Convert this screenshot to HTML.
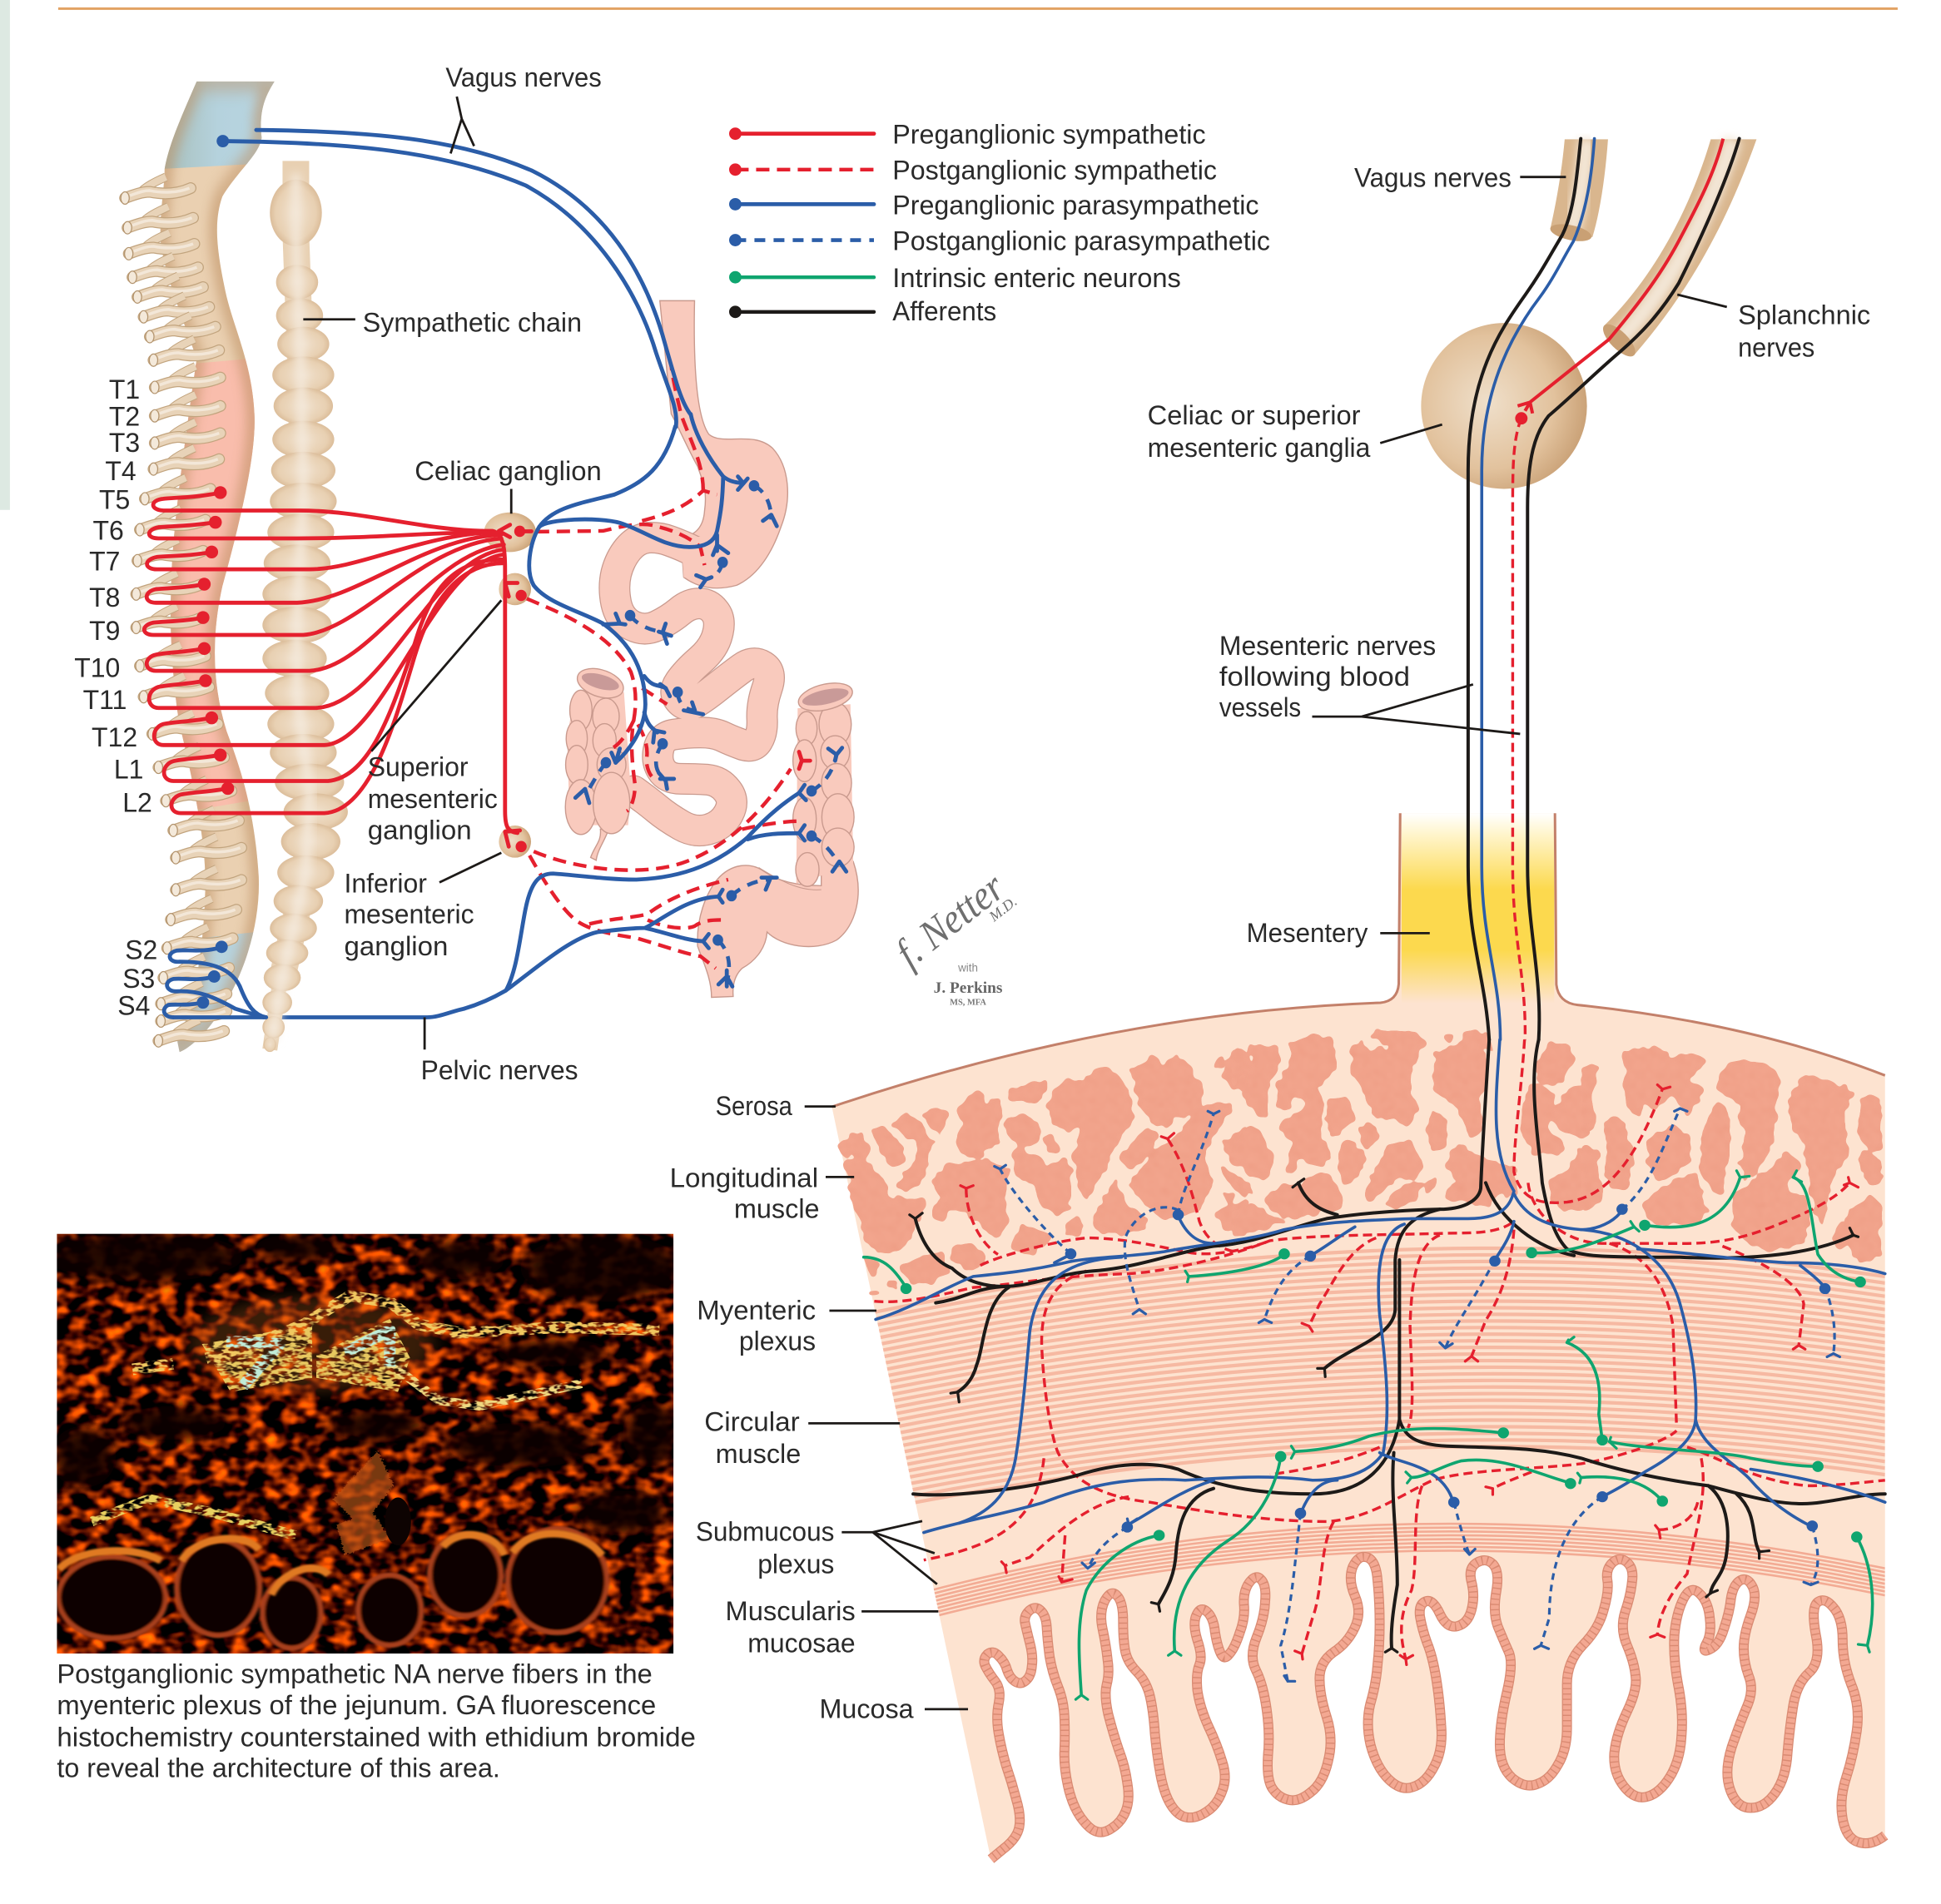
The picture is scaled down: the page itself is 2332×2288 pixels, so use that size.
<!DOCTYPE html>
<html><head><meta charset="utf-8"><style>
html,body{margin:0;padding:0;background:#fff}
svg{display:block}
path,line,ellipse,polyline,polygon,circle,use{vector-effect:non-scaling-stroke}
text{font-family:"Liberation Sans",sans-serif;font-size:21.5px;fill:#2a2a2a}
.k{fill:none;stroke:#1d1a18;stroke-width:4;stroke-linecap:round;stroke-linejoin:round}
.b{fill:none;stroke:#2b5da8;stroke-width:3.6;stroke-linecap:round;stroke-linejoin:round}
.r{fill:none;stroke:#e5202e;stroke-width:3.4;stroke-dasharray:11 6}
.bd{fill:none;stroke:#2b5da8;stroke-width:3.2;stroke-dasharray:8 6}
.g{fill:none;stroke:#0fa56f;stroke-width:3.6;stroke-linecap:round;stroke-linejoin:round}
.ys{fill:none;stroke-width:3.2;stroke-linecap:round}
.B{fill:none;stroke:#2b5da8;stroke-width:4.8;stroke-linecap:round;stroke-linejoin:round}
.BD{fill:none;stroke:#2b5da8;stroke-width:4.6;stroke-dasharray:13 10}
.R{fill:none;stroke:#e5202e;stroke-width:4.8;stroke-linecap:round;stroke-linejoin:round}
.RD{fill:none;stroke:#e5202e;stroke-width:4.4;stroke-dasharray:16 9}
.L{stroke:#1d1a18;stroke-width:2.8;fill:none}
.gut{fill:#f9cabd;stroke:#c99a8e;stroke-width:1.4}
</style></head><body>
<svg xmlns="http://www.w3.org/2000/svg" width="2332" height="2288" viewBox="0 0 1568 1538.4">
<defs>
<linearGradient id="mes" x1="0" y1="0" x2="0" y2="1"><stop offset="0" stop-color="#fff"/><stop offset=".12" stop-color="#fff4c8"/><stop offset=".4" stop-color="#fcd94e"/><stop offset=".72" stop-color="#fcd94e"/><stop offset="1" stop-color="#fde3d0"/></linearGradient>
<linearGradient id="cerv" x1="0" y1="0" x2="1" y2="0"><stop offset="0" stop-color="#a4b9b0"/><stop offset=".5" stop-color="#b5d2dd"/><stop offset="1" stop-color="#b9d6e2"/></linearGradient>
<radialGradient id="gang" cx=".4" cy=".48" r=".62"><stop offset="0" stop-color="#efdfca"/><stop offset=".65" stop-color="#e2c29d"/><stop offset="1" stop-color="#c89f74"/></radialGradient>
<radialGradient id="bead" cx=".5" cy=".5" r=".55"><stop offset="0" stop-color="#f0e0cc"/><stop offset=".7" stop-color="#e8d0b2"/><stop offset="1" stop-color="#d6b590"/></radialGradient>
<pattern id="cob" width="66" height="66" patternUnits="userSpaceOnUse"><rect width="66" height="66" fill="#f2a58d"/><g fill="none" stroke="#ea937a" stroke-width="1.6" style="vector-effect:none"><circle cx="16" cy="16" r="13" style="vector-effect:none"/><circle cx="16" cy="18" r="6" style="vector-effect:none"/><circle cx="48" cy="20" r="15" style="vector-effect:none"/><circle cx="30" cy="48" r="14" style="vector-effect:none"/><circle cx="60" cy="54" r="10" style="vector-effect:none"/></g></pattern>
<path id="sp" d="M460,118 L642,118 C620,140 605,160 612,200 C605,225 560,245 520,285 C500,320 505,360 530,430 C550,480 590,530 595,600 C600,660 560,760 520,850 C495,920 495,990 530,1060 C560,1110 595,1170 605,1270 C610,1340 570,1420 500,1480 C470,1505 440,1520 420,1525 L415,1510 C445,1470 475,1400 480,1290 C482,1240 470,1180 420,1050 C405,1000 395,900 400,860 C400,780 430,650 460,520 C420,450 375,380 375,340 C375,300 385,270 385,245 C395,210 420,175 460,118 Z"/>
<clipPath id="spc"><use href="#sp"/></clipPath>
<clipPath id="tis2"><path d="M0,122 Q400,-50 776,-67 L1055,-63 Q1300,-30 1490,65 L1490,1100 L161,1100 Z"/></clipPath>
<clipPath id="ph"><rect x="46" y="997" width="498" height="339"/></clipPath>
<filter id="lump" x="-3%" y="-3%" width="106%" height="106%" color-interpolation-filters="sRGB"><feTurbulence type="fractalNoise" baseFrequency=".035" numOctaves="3" seed="4"/><feDisplacementMap in="SourceGraphic" scale="40" xChannelSelector="R" yChannelSelector="G"/><feGaussianBlur stdDeviation="7"/><feColorMatrix values="1 0 0 0 0 0 1 0 0 0 0 0 1 0 0 0 0 0 16 -6.5"/></filter>
<filter id="blur6" x="-30%" y="-30%" width="160%" height="160%"><feGaussianBlur stdDeviation="12"/></filter>
<filter id="blur2" x="-10%" y="-10%" width="120%" height="120%"><feGaussianBlur stdDeviation="3"/></filter>
<filter id="blur1" x="-20%" y="-5%" width="140%" height="110%"><feGaussianBlur stdDeviation="3.5"/></filter>
<filter id="blurP" x="-30%" y="-30%" width="160%" height="160%"><feGaussianBlur stdDeviation="22"/></filter>
<filter id="photo" x="0" y="0" width="100%" height="100%" color-interpolation-filters="sRGB"><feTurbulence type="fractalNoise" baseFrequency=".07 .1" numOctaves="2" seed="9"/><feColorMatrix values="3 0 0 0 -1.2  1.25 0 0 0 -.58  0 0 0 0 0  0 0 0 0 1"/></filter>
<filter id="mott" x="-5%" y="-5%" width="110%" height="110%" color-interpolation-filters="sRGB"><feTurbulence type="fractalNoise" baseFrequency=".05 .08" numOctaves="2" seed="5" result="n"/><feColorMatrix in="n" values="0 0 0 0 0 0 0 0 0 0 0 0 0 0 0 6 0 0 0 -2.5" result="a"/><feComposite in="SourceGraphic" in2="a" operator="in"/></filter>
<filter id="rough" x="-5%" y="-5%" width="110%" height="110%"><feTurbulence type="fractalNoise" baseFrequency=".16" numOctaves="2" seed="2"/><feDisplacementMap in="SourceGraphic" scale="14" xChannelSelector="R" yChannelSelector="G"/></filter>
<g id="rt">
<path d="M12,-4 C16,-9 24,-13 33,-17" fill="none" stroke="#c2a47e" stroke-width="10.5"/>
<path d="M12,-4 C16,-9 24,-13 33,-17" fill="none" stroke="#e8d3b8" stroke-width="8.5"/>
<path d="M0,0 C8,-3 14,-5 20,-5 C30,-3 42,-3 53,-8" fill="none" stroke="#c2a47e" stroke-width="14" stroke-linecap="round"/>
<path d="M0,0 C8,-3 14,-5 20,-5 C30,-3 42,-3 53,-8" fill="none" stroke="#e8d3b8" stroke-width="11.5" stroke-linecap="round"/>
<path d="M4,-2 C10,-4 14,-6 20,-6 C30,-4 42,-4 52,-8" fill="none" stroke="#f3e7d8" stroke-width="3.5"/>
<ellipse cx="0" cy="0" rx="3.4" ry="5" fill="#f4e9da" stroke="#b3946e" stroke-width="1.2"/>
</g>
<path id="arc" d="M40,500 Q800,300 1490,430" fill="none" stroke="#f6b9a2" stroke-width="4.2"/>
<path id="arc2" d="M140,1000 Q800,780 1490,960" fill="none" stroke="#f3ab94" stroke-width="2.6"/>
<path id="wave" d="M225,1488 L243,1469 Q262,1450 265,1430 Q268,1410 261,1380 Q255,1350 247,1320 Q240,1290 236,1260 Q232,1230 236,1205 Q240,1180 231,1165 Q222,1150 217,1137 Q213,1125 220,1116 Q228,1108 236,1119 Q245,1130 248,1145 Q252,1160 260,1166 Q268,1172 275,1163 Q282,1155 283,1137 Q285,1120 280,1095 Q275,1070 273,1057 Q272,1045 280,1036 Q288,1028 295,1036 Q303,1045 304,1067 Q305,1090 308,1120 Q312,1150 320,1175 Q328,1200 329,1230 Q330,1260 329,1290 Q328,1320 334,1355 Q340,1390 352,1412 Q365,1435 375,1438 Q385,1442 397,1431 Q410,1420 416,1400 Q422,1380 418,1350 Q415,1320 406,1290 Q398,1260 391,1225 Q385,1190 389,1170 Q393,1150 390,1125 Q388,1100 383,1070 Q378,1040 386,1019 Q395,998 403,1009 Q412,1020 412,1055 Q412,1090 415,1110 Q418,1130 431,1147 Q445,1165 450,1192 Q455,1220 457,1260 Q460,1300 465,1335 Q470,1370 480,1390 Q490,1410 502,1412 Q515,1415 530,1402 Q545,1390 552,1365 Q560,1340 552,1310 Q545,1280 532,1245 Q520,1210 517,1180 Q515,1150 520,1135 Q525,1120 517,1090 Q510,1060 516,1044 Q522,1028 531,1039 Q540,1050 542,1075 Q545,1100 550,1114 Q555,1128 562,1116 Q570,1105 577,1077 Q585,1050 583,1025 Q582,1000 591,985 Q600,970 607,980 Q615,990 613,1020 Q612,1050 601,1085 Q590,1120 600,1145 Q610,1170 615,1215 Q620,1260 617,1300 Q615,1340 622,1357 Q630,1375 645,1380 Q660,1385 677,1367 Q695,1350 702,1310 Q710,1270 700,1230 Q690,1190 690,1160 Q690,1130 710,1112 Q730,1095 740,1067 Q750,1040 740,1010 Q730,980 737,957 Q745,935 757,940 Q770,945 772,982 Q775,1020 775,1060 Q775,1100 772,1135 Q770,1170 762,1205 Q755,1240 762,1280 Q770,1320 787,1342 Q805,1365 822,1357 Q840,1350 852,1320 Q865,1290 862,1245 Q860,1200 855,1160 Q850,1120 842,1095 Q835,1070 832,1047 Q830,1025 840,1020 Q850,1015 860,1042 Q870,1070 885,1065 Q900,1060 905,1035 Q910,1010 905,985 Q900,960 912,950 Q925,940 935,952 Q945,965 940,1002 Q935,1040 942,1065 Q950,1090 957,1110 Q965,1130 955,1185 Q945,1240 945,1280 Q945,1320 962,1340 Q980,1360 997,1352 Q1015,1345 1027,1317 Q1040,1290 1040,1250 Q1040,1210 1040,1170 Q1040,1130 1062,1100 Q1085,1070 1092,1035 Q1100,1000 1097,980 Q1095,960 1105,949 Q1115,938 1125,949 Q1135,960 1132,985 Q1130,1010 1122,1040 Q1115,1070 1125,1100 Q1135,1130 1137,1155 Q1140,1180 1125,1220 Q1110,1260 1107,1295 Q1105,1330 1120,1355 Q1135,1380 1152,1375 Q1170,1370 1185,1340 Q1200,1310 1202,1265 Q1205,1220 1197,1170 Q1190,1120 1192,1080 Q1195,1040 1205,1015 Q1215,990 1227,1005 Q1240,1020 1242,1050 Q1245,1080 1237,1097 Q1230,1115 1242,1107 Q1255,1100 1262,1070 Q1270,1040 1272,1015 Q1275,990 1285,982 Q1295,975 1302,992 Q1310,1010 1300,1045 Q1290,1080 1290,1105 Q1290,1130 1297,1155 Q1305,1180 1295,1210 Q1285,1240 1273,1285 Q1262,1330 1271,1362 Q1280,1395 1300,1395 Q1320,1395 1335,1367 Q1350,1340 1352,1295 Q1355,1250 1360,1210 Q1365,1170 1382,1150 Q1400,1130 1392,1080 Q1385,1030 1395,1021 Q1405,1012 1417,1031 Q1430,1050 1430,1090 Q1430,1130 1442,1170 Q1455,1210 1450,1255 Q1445,1300 1435,1340 Q1425,1380 1430,1415 Q1435,1450 1452,1457 Q1470,1465 1490,1445"/>
<path id="gutc" d="M840,345 L810,335 Q780,325 740,315 Q700,305 660,307 Q620,310 590,335 Q560,360 547,395 Q535,430 547,470 Q560,510 605,525 Q650,540 695,525 Q740,510 775,490 Q810,470 845,470 Q880,470 902,490 Q925,510 912,545 Q900,580 850,610 Q800,640 775,665 Q750,690 775,710 Q800,730 835,715 Q870,700 915,675 Q960,650 1000,630 Q1040,610 1075,625 Q1110,640 1090,680 Q1070,720 1072,755 Q1075,790 1057,810 Q1040,830 1000,820 Q960,810 930,800 Q900,790 850,790 Q800,790 755,795 Q710,800 700,830 Q690,860 710,882 Q730,905 780,905 Q830,905 875,907 Q920,910 947,935 Q975,960 952,990 Q930,1020 880,1030 Q830,1040 780,1020 Q730,1000 695,980 Q660,960 610,935"/>
</defs>

<rect width="1568" height="1538.4" fill="#fff"/>
<rect x="0" y="0" width="8" height="412" fill="#dde9e2"/>
<line x1="47" y1="7" x2="1533" y2="7" stroke="#e2a263" stroke-width="3"/>

<!-- spinal cord -->
<g transform="scale(.3454,.5574)">
<use href="#sp" fill="#ead0b1"/>
<g clip-path="url(#spc)">
<polygon points="340,100 680,100 680,235 340,246" fill="url(#cerv)"/>
<polygon points="400,530 620,518 640,1155 400,1180" fill="#f9bdac"/>
<polygon points="400,1365 640,1348 640,1530 400,1530" fill="#b7d3de"/>
<use href="#sp" fill="none" stroke="#bd8f62" stroke-width="20" opacity=".55" filter="url(#blur6)"/>
</g>
</g>
<use href="#rt" x="101" y="160"/><use href="#rt" x="103" y="184"/><use href="#rt" x="104" y="205"/><use href="#rt" x="107" y="224"/><use href="#rt" x="111" y="240"/><use href="#rt" x="116" y="256"/><use href="#rt" x="121" y="272"/><use href="#rt" x="124" y="291"/><use href="#rt" x="125" y="313"/><use href="#rt" x="125" y="336"/><use href="#rt" x="125" y="358"/><use href="#rt" x="124" y="379"/><use href="#rt" x="117" y="403"/><use href="#rt" x="113" y="428"/><use href="#rt" x="111" y="453"/><use href="#rt" x="110" y="480"/><use href="#rt" x="110" y="507"/><use href="#rt" x="113" y="538"/><use href="#rt" x="116" y="563"/><use href="#rt" x="123" y="593"/><use href="#rt" x="128" y="620"/><use href="#rt" x="134" y="647"/><use href="#rt" x="140" y="671"/><use href="#rt" x="142" y="693"/><use href="#rt" x="142" y="719"/><use href="#rt" x="138" y="743"/><use href="#rt" x="135" y="766"/><use href="#rt" x="132" y="790"/><use href="#rt" x="130" y="811"/><use href="#rt" x="130" y="825"/><use href="#rt" x="128" y="841"/>

<!-- pelvic line, behind chain -->
<path class="B" d="M140,822 L345,822 C355,822 365,817 375,815"/>

<!-- sympathetic chain -->
<path d="M239,130 L239,190 L243,300 L245,400 L240,500 L240,560 L250,640 L247,705 L237,750 L228,790" fill="none" stroke="#e8d0b2" stroke-width="32"/>
<path d="M228,780 L218,848" fill="none" stroke="#e8d0b2" stroke-width="18"/>
<g fill="url(#bead)">
<ellipse cx="239" cy="172" rx="21" ry="27"/>
<ellipse cx="240" cy="228" rx="17" ry="14"/><ellipse cx="242" cy="255" rx="19" ry="14"/><ellipse cx="245" cy="278" rx="21" ry="14"/><ellipse cx="245" cy="303" rx="25" ry="15"/><ellipse cx="245" cy="328" rx="24" ry="15"/><ellipse cx="245" cy="355" rx="25" ry="15"/><ellipse cx="245" cy="380" rx="26" ry="15"/><ellipse cx="245" cy="405" rx="27" ry="15"/><ellipse cx="243" cy="430" rx="27" ry="15"/><ellipse cx="240" cy="455" rx="27" ry="15"/><ellipse cx="240" cy="480" rx="28" ry="15"/><ellipse cx="240" cy="505" rx="28" ry="15"/><ellipse cx="238" cy="532" rx="26" ry="15"/><ellipse cx="240" cy="560" rx="26" ry="15"/><ellipse cx="243" cy="585" rx="27" ry="15"/><ellipse cx="245" cy="608" rx="27" ry="15"/><ellipse cx="250" cy="632" rx="28" ry="15"/><ellipse cx="255" cy="656" rx="26" ry="15"/><ellipse cx="251" cy="680" rx="24" ry="15"/><ellipse cx="247" cy="705" rx="23" ry="14"/><ellipse cx="241" cy="728" rx="20" ry="13"/><ellipse cx="237" cy="750" rx="19" ry="12"/><ellipse cx="232" cy="770" rx="17" ry="11"/><ellipse cx="228" cy="790" rx="15" ry="11"/><ellipse cx="224" cy="810" rx="12" ry="10"/><ellipse cx="221" cy="830" rx="9" ry="9"/><ellipse cx="218" cy="844" rx="5" ry="6"/>
</g>
<path d="M239,140 L239,190 L243,300 L245,400 L240,500 L240,560 L250,640 L247,705 L237,750 L228,790 L220,840" fill="none" stroke="#f4e9db" stroke-width="11" filter="url(#blur1)"/>

<!-- ganglia -->
<ellipse cx="412" cy="430" rx="21" ry="16" fill="url(#gang)"/>
<ellipse cx="416" cy="476" rx="13" ry="13" fill="url(#gang)"/>
<ellipse cx="416" cy="680" rx="13" ry="13" fill="url(#gang)"/>

<!-- red preganglionic -->
<g class="R">
<path d="M178,398 C160,402 140,402 132,403 C121,404 121,412 132,412.5 L240,412.5 C290,412 340,428 390,429"/>
<path d="M174,422 C155,425 140,425 128,426 C118,428 118,435 128,435 L240,435 C300,435 350,430 395,430"/>
<path d="M171,446 C155,449 140,449 127,450 C116,452 116,460 127,460 L250,460 C290,460 340,432 400,430"/>
<path d="M165,472 C150,475 138,475 126,476 C116,478 116,487 126,487 L240,487 C290,485 340,435 405,432"/>
<path d="M164,499 C150,502 135,502 124,503 C114,505 114,513 124,513 L245,513 C290,510 340,440 405,435"/>
<path d="M165,524 C150,527 135,527 126,529 C116,531 116,542 126,542 L250,542 C300,540 345,448 407,440"/>
<path d="M166,550 C150,553 138,553 128,555 C118,558 118,572 128,572 L255,572 C310,570 350,450 407,444"/>
<path d="M171,580 C155,583 142,583 132,585 C122,588 122,602 132,602 L262,602 C310,600 350,455 407,448"/>
<path d="M178,610 C160,613 148,613 140,615 C130,618 130,631 140,631 L265,631 C300,628 318,570 335,520 C350,470 370,452 407,452"/>
<path d="M184,637 C168,640 155,640 146,642 C136,645 136,657 146,657 L262,657 C300,655 320,580 335,530 C350,480 375,455 407,455"/>
<path d="M385,429 L398,429 C407,431 408,445 408,460 L408,655 C408,668 410,672 418,673"/>
<path d="M403,429 L412,424 M403,429 L412,434 M408,471 L418,471 M408,471 L411,482 M408,672 L420,671 M408,672 L411,684"/>
</g>

<!-- gut -->
<g transform="translate(375,334.5) scale(.22447,.32573)">
<path class="gut" d="M704,-281 L829,-281 C825,-150 830,0 880,50 C930,80 1040,40 1110,85 C1170,130 1180,210 1140,280 C1110,340 1060,400 980,425 C900,440 840,430 790,405 L780,310 C820,300 860,290 865,240 C875,190 860,170 840,130 C800,80 770,30 745,0 Z"/>
<use href="#gutc" fill="none" stroke="#c99a8e" stroke-width="38" stroke-linejoin="round" stroke-linecap="round"/>
<use href="#gutc" fill="none" stroke="#f9cabd" stroke-width="35.5" stroke-linejoin="round" stroke-linecap="round"/>
<path d="M790,405 L780,310 L900,300 L950,420 Z" fill="#f9cabd"/>
<!-- ascending colon -->
<path d="M400,690 L575,690 L600,940 L590,1020 L380,1020 L370,800 Z" fill="#f9cabd"/>
<g class="gut">
<path d="M490,1030 C495,1060 470,1070 455,1100 L475,1107 C480,1080 505,1060 520,1030 Z"/>
<ellipse cx="420" cy="735" rx="40" ry="50"/><ellipse cx="405" cy="805" rx="38" ry="45"/><ellipse cx="405" cy="870" rx="40" ry="48"/><ellipse cx="420" cy="975" rx="56" ry="68"/>
<ellipse cx="510" cy="750" rx="48" ry="45"/><ellipse cx="505" cy="810" rx="42" ry="42"/><ellipse cx="530" cy="870" rx="52" ry="42"/><ellipse cx="530" cy="965" rx="66" ry="76"/>
<ellipse cx="490" cy="668" rx="84" ry="34" transform="rotate(10 490 668)"/></g>
<ellipse cx="490" cy="664" rx="68" ry="18" transform="rotate(10 490 664)" fill="#c99a98"/>
<!-- descending colon & sigmoid -->
<path class="gut" d="M910,1155 C960,1115 1030,1110 1080,1135 C1130,1160 1200,1170 1285,1170 L1285,1130 L1400,1110 C1440,1190 1410,1270 1340,1305 C1260,1335 1140,1320 1090,1285 C1085,1330 1040,1360 1000,1375 C970,1395 965,1420 968,1445 L890,1447 C890,1400 860,1360 840,1320 C835,1250 870,1190 910,1155 Z"/>
<path d="M1200,730 L1390,720 L1400,1120 L1195,1165 Z" fill="#f9cabd"/>
<g class="gut">
<ellipse cx="1232" cy="780" rx="38" ry="42"/><ellipse cx="1225" cy="860" rx="42" ry="52"/><ellipse cx="1225" cy="1005" rx="42" ry="54"/><ellipse cx="1235" cy="1130" rx="42" ry="42"/>
<ellipse cx="1335" cy="770" rx="58" ry="55"/><ellipse cx="1335" cy="840" rx="52" ry="42"/><ellipse cx="1340" cy="915" rx="54" ry="48"/><ellipse cx="1345" cy="1000" rx="58" ry="58"/><ellipse cx="1345" cy="1075" rx="58" ry="48"/>
<ellipse cx="1300" cy="702" rx="98" ry="32" transform="rotate(-8 1300 702)"/></g>
<ellipse cx="1300" cy="702" rx="84" ry="18" transform="rotate(-8 1300 702)" fill="#c99a98"/>
<path d="M1060,1125 C1120,1150 1200,1185 1285,1180" fill="none" stroke="#c99a8e"/>

<!-- nerves z2 -->
<g class="RD">
<path d="M258,292 L500,290 C560,280 640,265 700,280 C760,290 820,310 850,330 L865,375"/>
<path d="M640,265 C720,250 790,235 860,190 L910,200"/>
<path d="M860,190 C860,120 810,60 780,0 C760,-60 750,-90 745,-120"/>
<path d="M225,458 L300,480 C400,510 540,560 600,640 C620,680 620,720 610,760 C600,800 600,850 615,920 C615,950 600,980 585,985"/>
<path d="M610,760 C590,790 560,820 530,830"/>
<path d="M640,680 L730,720"/>
<path d="M625,770 C650,800 665,830 655,860 C660,890 680,910 690,900"/>
<path d="M250,1085 C400,1130 650,1150 800,1110 C950,1070 1070,990 1175,880"/>
<path d="M1000,1030 C1060,1020 1150,1010 1210,1010"/>
<path d="M235,1095 C280,1150 340,1220 400,1255 C450,1280 520,1290 620,1300 C720,1320 800,1340 850,1345 L905,1375"/>
<path d="M450,1265 C540,1250 610,1250 660,1240 C720,1210 800,1180 950,1155"/>
<path d="M660,1255 C720,1275 800,1280 830,1270 C860,1255 900,1255 930,1255"/>
</g>
<path class="R" d="M1215,860 L1245,860 M1205,838 L1215,860 L1205,880"/>
<path class="R" d="M200,291 L242,291"/>
<path class="B" d="M760,30 C720,130 650,170 540,200 C430,220 320,230 270,280 C235,320 220,390 250,425 C300,470 420,490 500,520 C580,560 650,620 652,720 C650,780 600,830 545,865"/>
<path class="B" d="M270,280 C300,260 480,255 560,270 C650,290 720,330 810,330 C860,330 900,320 910,290 C925,240 930,210 932,155 C880,110 830,50 815,0"/>
<path class="B" d="M932,155 C960,170 985,170 1005,172 M910,300 L910,340 M500,522 L560,520 M648,650 C680,680 700,670 725,680 M648,740 C660,775 680,780 695,790"/>
<path class="B" d="M0,1475 C50,1465 100,1450 150,1430 C190,1380 200,1300 220,1230 C240,1160 270,1140 320,1140 C420,1145 520,1155 620,1155 C800,1150 920,1110 1020,1050 C1100,990 1160,960 1205,940"/>
<path class="B" d="M1020,1055 C1080,1040 1140,1040 1205,1040"/>
<path class="B" d="M150,1430 C250,1380 380,1300 480,1285 C540,1280 600,1275 650,1275 C700,1260 800,1200 915,1197"/>
<path class="B" d="M650,1275 C720,1285 790,1305 860,1308"/>
<path class="B" d="M985,155 L1005,172 L985,188 M1020,160 L1005,172 M895,350 L910,325 L950,345 M545,495 L560,520 L580,522 M705,670 L725,680 L740,700 M680,815 L685,785 L720,790 M560,830 L545,865 L530,840 M1225,920 L1205,940 L1230,958 M1225,1020 L1205,1040 L1225,1058 M930,1180 L915,1197 L930,1212 M880,1290 L860,1308 L880,1325"/>
<g class="BD">
<path d="M1043,178 C1080,190 1105,220 1105,262"/>
<path d="M930,368 C920,395 900,405 870,410"/>
<path d="M597,500 C625,525 680,540 720,540"/>
<path d="M768,690 C770,720 800,735 830,735"/>
<path d="M714,818 C680,850 680,890 730,910"/>
<path d="M510,865 C480,890 460,920 435,945"/>
<path d="M1250,935 C1290,920 1330,890 1340,840"/>
<path d="M1250,1047 C1290,1060 1330,1090 1350,1120"/>
<path d="M962,1195 C1000,1170 1060,1155 1100,1155"/>
<path d="M913,1305 C945,1325 965,1360 945,1410"/>
</g>
<path class="B" d="M1070,1150 L1125,1150 M1085,1180 L1100,1155 M1075,265 L1105,250 L1125,278 M835,400 L870,410 L890,405 M870,410 L850,430 M700,540 L745,550 M725,520 L715,540 L730,570 M790,735 L860,745 M820,715 L830,735 M705,905 L755,905 M700,890 L725,910 L730,930 M400,952 L435,930 L450,965 M1310,830 L1340,845 L1360,828 M1340,845 L1335,860 M1325,1135 L1350,1110 L1375,1135 M915,1415 L945,1395 L965,1420 M945,1380 L945,1420"/>
<g fill="#2b5da8">
<ellipse cx="1043" cy="178" rx="19" ry="14"/><ellipse cx="930" cy="368" rx="19" ry="14"/><ellipse cx="597" cy="500" rx="19" ry="14"/><ellipse cx="768" cy="690" rx="19" ry="14"/><ellipse cx="714" cy="818" rx="19" ry="14"/><ellipse cx="510" cy="865" rx="19" ry="14"/><ellipse cx="1250" cy="935" rx="19" ry="14"/><ellipse cx="1250" cy="1047" rx="19" ry="14"/><ellipse cx="962" cy="1195" rx="19" ry="14"/><ellipse cx="913" cy="1305" rx="19" ry="14"/>
</g>
<g fill="#e5202e"><ellipse cx="200" cy="291" rx="20" ry="14"/><ellipse cx="205" cy="450" rx="20" ry="14"/><ellipse cx="205" cy="1073" rx="20" ry="14"/></g>
</g>

<!-- vagus -->
<path class="B" d="M207,105 C300,106 370,112 430,138 C490,168 520,220 535,270 C545,305 550,325 558,335"/>
<path class="B" d="M181,114 C280,115 360,122 425,150 C480,180 515,235 530,285 C540,315 548,330 546,345"/>
<!-- sacral -->
<path class="B" d="M180,765 C165,770 150,767 143,768 C134,770 136,778 145,777 C165,777 188,780 195,800 C200,812 205,820 215,822"/>
<path class="B" d="M173,789 C160,793 148,790 140,791 C132,793 134,801 142,801 C160,800 172,805 190,815 L213,822"/>
<path class="B" d="M164,810 C150,813 142,811 136,812 C130,815 132,822 140,822"/>
<g fill="#2b5da8"><circle cx="180" cy="114" r="5"/><circle cx="179" cy="765" r="5"/><circle cx="173" cy="789" r="5"/><circle cx="164" cy="810" r="5"/></g>
<g fill="#e5202e"><circle cx="178" cy="398" r="5.2"/><circle cx="174" cy="422" r="5.2"/><circle cx="171" cy="446" r="5.2"/><circle cx="165" cy="472" r="5.2"/><circle cx="164" cy="499" r="5.2"/><circle cx="165" cy="524" r="5.2"/><circle cx="166" cy="550" r="5.2"/><circle cx="171" cy="580" r="5.2"/><circle cx="178" cy="610" r="5.2"/><circle cx="184" cy="637" r="5.2"/></g>

<!-- legend -->
<g>
<path class="R" d="M594,108 L706,108"/><circle cx="594" cy="108" r="5" fill="#e5202e"/>
<path class="RD" d="M594,137 L706,137"/><circle cx="594" cy="137" r="5" fill="#e5202e"/>
<path class="B" d="M594,165 L706,165" /><circle cx="594" cy="165" r="5" fill="#2b5da8"/>
<path class="BD" d="M594,194 L706,194"/><circle cx="594" cy="194" r="5" fill="#2b5da8"/>
<path class="g" style="stroke-width:4.4" d="M594,224 L706,224"/><circle cx="594" cy="224" r="5" fill="#0fa56f"/>
<path class="k" style="stroke-width:4.4" d="M594,252 L706,252"/><circle cx="594" cy="252" r="5" fill="#1d1a18"/>
<text x="721" y="116" textLength="253" lengthAdjust="spacingAndGlyphs">Preganglionic sympathetic</text>
<text x="721" y="145" textLength="262" lengthAdjust="spacingAndGlyphs">Postganglionic sympathetic</text>
<text x="721" y="173" textLength="296" lengthAdjust="spacingAndGlyphs">Preganglionic parasympathetic</text>
<text x="721" y="202" textLength="305" lengthAdjust="spacingAndGlyphs">Postganglionic parasympathetic</text>
<text x="721" y="232" textLength="233" lengthAdjust="spacingAndGlyphs">Intrinsic enteric neurons</text>
<text x="721" y="259" textLength="84" lengthAdjust="spacingAndGlyphs">Afferents</text>
</g>

<!-- left labels -->
<g>
<text x="360" y="70" textLength="126" lengthAdjust="spacingAndGlyphs">Vagus nerves</text>
<text x="293" y="268" textLength="177" lengthAdjust="spacingAndGlyphs">Sympathetic chain</text>
<text x="335" y="388" textLength="151" lengthAdjust="spacingAndGlyphs">Celiac ganglion</text>
<text x="88" y="322">T1</text><text x="88" y="344">T2</text><text x="88" y="365">T3</text><text x="85" y="388">T4</text><text x="80" y="411">T5</text><text x="75" y="436">T6</text><text x="72" y="461">T7</text><text x="72" y="490">T8</text><text x="72" y="517">T9</text><text x="60" y="547">T10</text><text x="67" y="573">T11</text><text x="74" y="603">T12</text><text x="92" y="629">L1</text><text x="99" y="656">L2</text><text x="101" y="775">S2</text><text x="99" y="798">S3</text><text x="95" y="820">S4</text>
<text x="297" y="627">Superior</text><text x="297" y="653" textLength="105" lengthAdjust="spacingAndGlyphs">mesenteric</text><text x="297" y="678" textLength="84" lengthAdjust="spacingAndGlyphs">ganglion</text>
<text x="278" y="721">Inferior</text><text x="278" y="746" textLength="105" lengthAdjust="spacingAndGlyphs">mesenteric</text><text x="278" y="772" textLength="84" lengthAdjust="spacingAndGlyphs">ganglion</text>
<text x="340" y="872" textLength="127" lengthAdjust="spacingAndGlyphs">Pelvic nerves</text>
</g>
<path class="L" d="M369,78 L373,96 L364,124 M373,96 L383,118 M245,258 L287,258 M413,395 L413,415 M300,607 L405,485 M355,713 L405,689 M343,822 L343,848"/>

<!-- tissue -->
<g transform="translate(672,840) scale(.571,.445)">
<path fill="#fde3d0" d="M225,1488 L243,1469 Q262,1450 265,1430 Q268,1410 261,1380 Q255,1350 247,1320 Q240,1290 236,1260 Q232,1230 236,1205 Q240,1180 231,1165 Q222,1150 217,1137 Q213,1125 220,1116 Q228,1108 236,1119 Q245,1130 248,1145 Q252,1160 260,1166 Q268,1172 275,1163 Q282,1155 283,1137 Q285,1120 280,1095 Q275,1070 273,1057 Q272,1045 280,1036 Q288,1028 295,1036 Q303,1045 304,1067 Q305,1090 308,1120 Q312,1150 320,1175 Q328,1200 329,1230 Q330,1260 329,1290 Q328,1320 334,1355 Q340,1390 352,1412 Q365,1435 375,1438 Q385,1442 397,1431 Q410,1420 416,1400 Q422,1380 418,1350 Q415,1320 406,1290 Q398,1260 391,1225 Q385,1190 389,1170 Q393,1150 390,1125 Q388,1100 383,1070 Q378,1040 386,1019 Q395,998 403,1009 Q412,1020 412,1055 Q412,1090 415,1110 Q418,1130 431,1147 Q445,1165 450,1192 Q455,1220 457,1260 Q460,1300 465,1335 Q470,1370 480,1390 Q490,1410 502,1412 Q515,1415 530,1402 Q545,1390 552,1365 Q560,1340 552,1310 Q545,1280 532,1245 Q520,1210 517,1180 Q515,1150 520,1135 Q525,1120 517,1090 Q510,1060 516,1044 Q522,1028 531,1039 Q540,1050 542,1075 Q545,1100 550,1114 Q555,1128 562,1116 Q570,1105 577,1077 Q585,1050 583,1025 Q582,1000 591,985 Q600,970 607,980 Q615,990 613,1020 Q612,1050 601,1085 Q590,1120 600,1145 Q610,1170 615,1215 Q620,1260 617,1300 Q615,1340 622,1357 Q630,1375 645,1380 Q660,1385 677,1367 Q695,1350 702,1310 Q710,1270 700,1230 Q690,1190 690,1160 Q690,1130 710,1112 Q730,1095 740,1067 Q750,1040 740,1010 Q730,980 737,957 Q745,935 757,940 Q770,945 772,982 Q775,1020 775,1060 Q775,1100 772,1135 Q770,1170 762,1205 Q755,1240 762,1280 Q770,1320 787,1342 Q805,1365 822,1357 Q840,1350 852,1320 Q865,1290 862,1245 Q860,1200 855,1160 Q850,1120 842,1095 Q835,1070 832,1047 Q830,1025 840,1020 Q850,1015 860,1042 Q870,1070 885,1065 Q900,1060 905,1035 Q910,1010 905,985 Q900,960 912,950 Q925,940 935,952 Q945,965 940,1002 Q935,1040 942,1065 Q950,1090 957,1110 Q965,1130 955,1185 Q945,1240 945,1280 Q945,1320 962,1340 Q980,1360 997,1352 Q1015,1345 1027,1317 Q1040,1290 1040,1250 Q1040,1210 1040,1170 Q1040,1130 1062,1100 Q1085,1070 1092,1035 Q1100,1000 1097,980 Q1095,960 1105,949 Q1115,938 1125,949 Q1135,960 1132,985 Q1130,1010 1122,1040 Q1115,1070 1125,1100 Q1135,1130 1137,1155 Q1140,1180 1125,1220 Q1110,1260 1107,1295 Q1105,1330 1120,1355 Q1135,1380 1152,1375 Q1170,1370 1185,1340 Q1200,1310 1202,1265 Q1205,1220 1197,1170 Q1190,1120 1192,1080 Q1195,1040 1205,1015 Q1215,990 1227,1005 Q1240,1020 1242,1050 Q1245,1080 1237,1097 Q1230,1115 1242,1107 Q1255,1100 1262,1070 Q1270,1040 1272,1015 Q1275,990 1285,982 Q1295,975 1302,992 Q1310,1010 1300,1045 Q1290,1080 1290,1105 Q1290,1130 1297,1155 Q1305,1180 1295,1210 Q1285,1240 1273,1285 Q1262,1330 1271,1362 Q1280,1395 1300,1395 Q1320,1395 1335,1367 Q1350,1340 1352,1295 Q1355,1250 1360,1210 Q1365,1170 1382,1150 Q1400,1130 1392,1080 Q1385,1030 1395,1021 Q1405,1012 1417,1031 Q1430,1050 1430,1090 Q1430,1130 1442,1170 Q1455,1210 1450,1255 Q1445,1300 1435,1340 Q1425,1380 1430,1415 Q1435,1450 1452,1457 Q1470,1465 1490,1445 L1490,65 Q1300,-30 1055,-63 Q1028,-67 1025,-100 L1023,-411 L804,-411 L802,-101 Q800,-70 776,-67 Q400,-50 0,122 Z"/>
<rect x="806" y="-411" width="216" height="345" fill="url(#mes)"/>
<path fill="none" stroke="#c3806a" stroke-width="3" d="M0,122 Q400,-50 776,-67 Q800,-70 802,-101 L804,-411 M1023,-411 L1025,-100 Q1028,-67 1055,-63 Q1300,-30 1490,65"/>

<!-- muscle -->
<g clip-path="url(#tis2)">
<use href="#arc"/><use href="#arc" y="12"/><use href="#arc" y="24"/><use href="#arc" y="36"/><use href="#arc" y="48"/><use href="#arc" y="60"/><use href="#arc" y="72"/><use href="#arc" y="84"/><use href="#arc" y="96"/><use href="#arc" y="108"/><use href="#arc" y="120"/><use href="#arc" y="132"/><use href="#arc" y="144"/><use href="#arc" y="156"/><use href="#arc" y="168"/><use href="#arc" y="180"/><use href="#arc" y="192"/><use href="#arc" y="204"/><use href="#arc" y="216"/><use href="#arc" y="228"/><use href="#arc" y="240"/><use href="#arc" y="252"/><use href="#arc" y="264"/><use href="#arc" y="276"/><use href="#arc" y="288"/><use href="#arc" y="300"/><use href="#arc" y="312"/><use href="#arc" y="324"/><use href="#arc" y="336"/><use href="#arc" y="348"/><use href="#arc" y="360"/>
<use href="#arc2"/><use href="#arc2" y="7"/><use href="#arc2" y="14"/><use href="#arc2" y="21"/><use href="#arc2" y="28"/><use href="#arc2" y="35"/><use href="#arc2" y="42"/><use href="#arc2" y="49"/>
</g>
</g>

<!-- longitudinal muscle blobs -->
<g transform="scale(.6724) translate(1000,1250) scale(.33333)">
<g fill="url(#cob)" filter="url(#lump)">
<polygon points="40,440 110,420 140,450 190,510 200,570 340,570 330,620 320,660 290,650 300,700 240,760 160,770 110,720 100,640 65,580 60,500"/>
<polygon points="140,320 180,310 240,370 270,440 210,460 170,400"/>
<polygon points="215,300 265,260 330,310 345,360 380,350 345,420 330,510 260,545 230,510 300,440 300,370 230,320"/>
<polygon points="325,270 370,240 410,250 410,310 390,350 345,300"/>
<polygon points="445,260 500,190 550,190 555,230 600,200 620,260 590,320 610,370 530,400 560,420 480,420 440,370 475,300"/>
<polygon points="630,180 700,165 780,140 770,190 740,230 690,220 640,210"/>
<polygon points="770,220 850,130 900,150 940,110 1010,100 1070,190 1085,290 1040,350 990,450 950,510 920,590 890,530 870,420 900,300 860,330 790,300"/>
<polygon points="615,290 680,260 750,300 750,360 700,390 640,350"/>
<polygon points="760,350 790,340 820,400 780,410"/>
<polygon points="650,400 680,380 700,410 760,420 770,470 830,420 860,460 860,600 810,630 760,610 720,520 660,490"/>
<polygon points="355,510 420,440 500,440 570,430 640,470 620,560 635,660 590,720 520,650 480,620 420,610 400,660 360,640 360,600 400,570"/>
<polygon points="1060,90 1100,100 1150,50 1200,90 1240,50 1300,110 1340,190 1310,270 1230,280 1200,320 1150,290 1100,210 1090,150"/>
<polygon points="1030,430 1130,305 1180,340 1150,400 1080,470"/>
<polygon points="1070,520 1160,400 1230,360 1330,240 1430,220 1440,250 1380,330 1340,420 1370,520 1310,620 1230,640 1180,640 1100,560"/>
<polygon points="935,640 1020,500 1060,600 1130,640 1130,680 1010,700 950,690"/>
<polygon points="1380,70 1420,50 1410,100 1385,105"/>
<polygon points="1410,130 1440,30 1500,40 1500,180 1450,180"/>
<polygon points="1410,370 1500,300 1500,460 1440,450"/>
<polygon points="1380,440 1420,460 1490,520 1500,570 1440,530"/>
<polygon points="1375,620 1420,600 1500,580 1500,700 1440,700"/>
<polygon points="240,820 300,790 400,760 420,830 360,870 290,880"/>
<polygon points="430,750 480,730 550,760 550,810 490,830 430,790"/>
<polygon points="640,750 680,660 730,680 800,710 720,770 660,770"/>
<polygon points="835,670 880,630 910,670 880,710 840,700"/>
<polygon points="120,770 165,790 165,860 130,850"/>
<polygon points="190,860 240,870 220,895 195,890"/>
<polygon points="135,900 185,905 160,925 140,925"/>
<polygon points="25,370 65,360 60,420 30,410"/>
<polygon points="60,340 100,330 135,390 120,430 70,420"/>
<polygon points="1400,540 1450,560 1440,590 1410,570"/>
</g>
</g>
<g transform="scale(.6724) translate(1480,1220) scale(.33333)">
<g fill="url(#cob)" filter="url(#lump)">
<polygon points="60,110 170,110 170,180 130,260 130,360 100,365 50,310 40,240 80,170"/>
<polygon points="205,100 290,70 360,80 380,190 330,240 310,260 330,320 320,420 360,500 320,550 250,510 220,570 190,570 220,460 170,420 180,380 250,350 270,310 230,280 210,340 160,330 160,260 210,170"/>
<polygon points="430,110 470,90 490,130 540,110 560,140 570,110 490,70 520,55 680,60 690,110 660,160 640,250 670,340 630,410 590,380 510,360 490,320 470,250 430,210"/>
<polygon points="345,300 420,285 440,370 380,440 350,420 340,370"/>
<polygon points="455,400 500,385 535,430 490,490 460,450"/>
<polygon points="390,460 430,450 490,520 440,600 400,610 385,540"/>
<polygon points="475,640 520,560 560,470 640,450 690,540 650,590 590,590 560,620 490,680"/>
<polygon points="540,680 620,610 690,600 660,670 600,695"/>
<polygon points="695,600 740,575 730,620 705,650"/>
<polygon points="700,420 720,330 775,380 775,480 720,490"/>
<polygon points="730,140 790,110 900,60 920,180 900,300 900,430 850,430 820,340 730,270"/>
<polygon points="820,60 920,55 940,130 860,100"/>
<polygon points="760,75 800,70 780,110"/>
<polygon points="765,540 810,460 860,490 900,510 1020,550 1030,650 960,650 910,690 760,660 810,600"/>
<polygon points="0,490 50,400 100,420 160,520 120,600 60,580"/>
<polygon points="0,560 60,610 85,660 40,640"/>
<polygon points="120,650 190,610 240,620 300,570 350,570 395,650 395,700 300,715 220,740 140,700"/>
<polygon points="0,700 80,680 140,720 200,740 100,780 0,780"/>
<polygon points="0,130 50,130 70,170 0,260"/>
<polygon points="1090,190 1150,90 1220,110 1235,170 1170,260 1110,230"/>
<polygon points="1050,320 1080,240 1170,280 1160,350 1130,400 1200,470 1190,510 1090,500 1040,420"/>
<polygon points="1150,380 1210,260 1290,250 1290,440 1220,430"/>
<polygon points="1140,590 1210,560 1250,480 1290,480 1290,700 1200,710 1150,660"/>
</g>
</g>
<g transform="scale(.6724) translate(1900,1220) scale(.33333)">
<g fill="url(#cob)" filter="url(#lump)">
<polygon points="140,130 260,110 330,150 410,135 450,175 390,230 440,260 430,310 380,360 330,290 260,340 220,320 210,370 180,340 145,290 165,200"/>
<polygon points="0,190 60,180 40,300 50,400 0,440"/>
<polygon points="80,390 125,355 165,420 185,500 170,620 120,630 80,580 95,500"/>
<polygon points="0,480 60,480 60,590 80,620 60,680 0,700"/>
<polygon points="240,450 330,390 385,440 395,520 320,590 270,600 240,530"/>
<polygon points="210,680 300,610 410,570 460,710 420,750 260,750"/>
<polygon points="435,410 490,310 535,350 530,490 510,640 470,630 425,550"/>
<polygon points="490,220 550,160 660,175 715,210 700,340 690,460 640,560 590,600 570,530 590,440 565,370 580,330 490,270"/>
<polygon points="550,645 680,550 740,490 790,540 730,620 810,650 820,760 800,820 680,850 600,820 545,760"/>
<polygon points="745,310 800,210 960,260 980,290 950,340 960,500 910,580 880,690 880,780 840,700 810,530 800,460 755,390"/>
<polygon points="1010,300 1080,290 1080,500 1040,480 995,430"/>
<polygon points="995,520 1030,485 1080,520 1080,610 1040,610"/>
<polygon points="960,700 1040,650 1080,680 1080,870 1000,890 950,800"/>
<polygon points="900,800 940,735 960,790 935,860"/>
</g>
</g>

<g transform="translate(672,840) scale(.571,.445)">
<!-- mucosa bead line -->
<use href="#wave" fill="none" stroke="#d98a72" stroke-width="12" stroke-linejoin="round"/>
<use href="#wave" fill="none" stroke="#f3a892" stroke-width="9.5" stroke-dasharray="5 1.4" stroke-linejoin="round"/>
</g>

<!-- right column upper -->
<path d="M1264,112.5 L1299,112.5 C1297,140 1293,170 1286.4,191.6 L1252.5,184.2 C1258,160 1262,135 1264,112.5 Z" fill="#d9b68e"/>
<path d="M1282,112 C1280,140 1276,165 1269,188" fill="none" stroke="#f3e6d6" stroke-width="20" filter="url(#blur1)"/>
<ellipse cx="1269" cy="188" rx="17" ry="6" transform="rotate(12 1269 188)" fill="#c9a074"/>
<path d="M1382,112.5 L1419,112.5 C1395,180 1365,235 1320,287 L1296,263 C1335,225 1365,170 1382,112.5 Z" fill="#d9b68e"/>
<path d="M1400,112 C1378,180 1348,232 1308,275" fill="none" stroke="#f3e6d6" stroke-width="22" filter="url(#blur1)"/>
<ellipse cx="1308" cy="275" rx="17" ry="7" transform="rotate(45 1308 275)" fill="#c9a074"/>
<circle cx="1215" cy="328" r="67" fill="url(#gang)"/>
<path class="k" d="M1277,112 C1274,140 1272,170 1262,190 C1250,210 1245,220 1233,237 C1215,263 1186,300 1186,380 L1186,700 C1186,760 1200,790 1203,840"/>
<path class="b" d="M1288,112 C1286,140 1282,170 1271,195 C1262,210 1255,225 1244,240 C1225,265 1197,310 1197,380 L1197,700 C1197,760 1212,790 1212,840"/>
<path fill="none" stroke="#e5202e" stroke-width="4" d="M1392,112 C1385,140 1372,165 1356,195 C1340,225 1320,250 1300,274 L1236,325 L1232,332 M1236,325 L1226,328 M1236,325 L1238,334"/>
<path class="r" d="M1229,338 C1222,355 1222,380 1222,410 L1222,700 C1222,760 1233,790 1232,840"/>
<path class="k" d="M1405,112 C1397,140 1378,185 1356,229 C1340,255 1325,270 1309,284 C1290,300 1270,320 1251,336 C1240,350 1234,370 1234,410 L1234,700 C1234,750 1246,790 1243,840"/>
<circle cx="1229" cy="338" r="5" fill="#e5202e"/>

<!-- tissue nerves -->
<g transform="translate(672,840) scale(.571,.445)">
<g class="r">
<path d="M980,0 C975,100 965,180 965,240 C975,290 1000,300 1040,295 C1100,285 1140,210 1175,90"/>
<path d="M60,475 C100,480 150,465 200,450 C260,445 300,430 420,425 C480,420 560,395 620,365 C680,355 760,355 860,352 C900,350 940,355 965,330"/>
<path d="M210,410 C240,390 320,365 360,360 C410,360 460,375 500,385 C530,395 580,385 620,365"/>
<path d="M985,260 C990,320 1040,370 1090,370 L1160,370 C1220,370 1260,375 1330,340 C1380,315 1420,290 1440,260"/>
<path d="M1100,370 C1150,390 1180,440 1190,520 L1195,700"/>
<path d="M1260,375 C1310,400 1370,440 1375,480 L1368,555"/>
<path d="M860,355 C830,370 820,430 818,520 C820,600 825,680 815,705"/>
<path d="M770,360 C730,380 710,440 690,480 L675,520"/>
<path d="M965,345 C960,430 940,480 925,510 L905,575"/>
<path d="M190,270 C190,320 210,370 235,390"/>
<path d="M475,180 C500,230 510,280 520,330 C530,365 550,380 570,385"/>
<path d="M360,420 C310,440 295,490 297,560 C300,640 310,720 320,750 C340,800 380,830 450,840 C540,860 620,875 700,875 C760,870 800,830 850,800 C900,780 1000,780 1060,770 C1110,760 1180,730 1195,710"/>
<path d="M300,760 C290,880 230,920 130,945"/>
<path d="M1210,740 C1260,760 1300,800 1380,810 C1420,810 1450,805 1490,800"/>
<path d="M1230,760 C1240,830 1220,900 1210,970 C1190,1000 1170,1040 1168,1080"/>
<path d="M1170,890 C1195,890 1220,870 1225,840"/>
<path d="M775,740 C720,770 670,780 620,790"/>
<path d="M420,830 C370,840 330,880 280,940 L245,955"/>
<path d="M330,900 L325,985"/>
<path d="M710,875 C690,920 695,1000 680,1050 L665,1115"/>
<path d="M835,810 C820,860 830,950 820,1000 C800,1050 805,1090 812,1125"/>
<path d="M990,785 C970,795 950,805 935,815"/>
</g>
<path class="k" d="M930,0 C925,100 920,200 918,270 C915,295 890,308 860,308 C800,310 750,315 700,325 C650,340 600,370 540,375 C490,385 430,415 370,420 C320,425 290,445 250,448 C220,450 190,440 170,415 C140,400 125,360 118,325"/>
<path class="k" d="M250,450 C215,480 215,560 205,590 C200,615 190,630 178,640 M250,448 C200,450 190,470 147,478 M660,260 C670,295 690,310 715,318"/>
<path class="k" d="M860,308 C820,320 800,345 797,400 L797,490 C795,540 730,560 697,597 M803,400 L803,690 C810,720 825,735 870,738 C950,742 1000,740 1060,760 C1120,785 1180,800 1240,810 C1300,830 1350,850 1400,840 C1430,835 1460,825 1490,825"/>
<path class="k" d="M115,825 C170,832 280,815 350,790 C400,770 450,765 490,780 C540,810 600,825 680,825 C740,825 790,790 803,690"/>
<path class="k" d="M540,815 C500,830 490,880 487,930 C485,980 470,1005 462,1025 M795,750 C790,830 800,900 800,990 C795,1030 790,1070 792,1105 M1240,810 C1270,840 1270,900 1265,940 C1260,975 1245,985 1243,1005 M1280,825 C1310,860 1300,900 1312,930"/>
<path class="k" d="M1000,0 C985,80 1000,180 1005,260 C1015,330 1025,360 1040,380 C1060,395 1100,395 1200,395 C1280,400 1380,395 1445,355 M925,260 C945,330 1000,380 1050,392"/>
<path class="b" d="M945,0 C940,100 930,200 965,275 C960,300 950,325 900,325 L820,325 C760,328 700,330 640,345 C590,365 530,370 470,385 C420,395 360,395 330,405 C280,420 240,425 200,430 C160,450 110,490 62,508"/>
<path class="b" d="M810,335 C775,350 770,420 775,500 C785,600 790,680 780,750 C760,790 720,800 680,800 C620,790 560,795 500,800 C440,795 380,800 300,840 C250,860 180,875 130,895"/>
<path class="b" d="M410,395 C330,400 290,440 280,530 C275,600 270,680 260,760 C250,830 220,860 180,878"/>
<path class="b" d="M965,280 C980,320 1010,340 1060,345 C1120,350 1180,390 1200,480 C1215,550 1225,620 1222,690 C1220,720 1200,750 1150,785 C1120,810 1105,820 1090,830 M1222,690 C1230,740 1280,770 1300,800 C1320,830 1350,860 1380,880 M1300,780 C1350,790 1430,810 1490,840"/>
<path class="b" d="M1060,345 C1085,345 1105,330 1115,315 M1140,380 C1200,385 1280,400 1350,405 C1400,405 1450,410 1490,425 M1370,410 C1385,425 1395,435 1405,450 M540,370 C515,370 500,350 490,320 M315,405 L338,390 M740,340 C720,355 700,375 680,390 M965,330 C960,360 945,385 938,400 M775,750 C800,770 860,770 878,835 M715,800 C690,800 675,825 665,855 M540,800 C490,820 450,860 420,880"/>
<g class="bd">
<path d="M338,388 C310,360 255,280 238,235"/>
<path d="M490,318 C495,270 520,220 540,135"/>
<path d="M490,310 C470,295 430,310 415,360 C412,400 420,430 435,490"/>
<path d="M677,393 C640,420 625,460 612,508"/>
<path d="M938,400 C905,480 880,520 868,560"/>
<path d="M1118,308 C1160,265 1180,180 1200,125"/>
<path d="M1405,450 C1420,500 1420,540 1417,570"/>
<path d="M418,885 C380,915 370,940 362,960"/>
<path d="M663,860 C655,950 650,1040 635,1100 L645,1165"/>
<path d="M880,840 C890,890 895,910 902,935"/>
<path d="M1090,830 C1040,870 1015,950 1015,1050 L1003,1100"/>
<path d="M1387,883 C1400,940 1395,970 1385,990"/>
</g>
<path class="g" d="M45,395 C75,395 90,420 105,450 M640,390 C620,410 570,425 505,430 M1150,337 C1220,350 1265,330 1285,250 M990,387 C1040,390 1080,370 1135,340 M1360,250 C1385,260 1385,330 1395,390 C1410,420 1430,435 1455,440 M1040,550 C1080,570 1090,620 1085,680 L1090,727 M950,714 C880,705 820,700 760,720 C730,735 700,745 655,748 M1100,730 C1150,745 1250,745 1300,760 C1340,770 1370,775 1395,775 M1045,805 C1000,790 950,755 890,765 C860,775 840,795 820,795 M1060,795 C1110,790 1150,800 1175,838 M635,757 C630,800 610,870 560,910 C500,960 480,1030 485,1110 M463,900 C420,910 380,950 360,1000 C345,1060 350,1130 353,1190 M1450,903 C1470,950 1480,1020 1465,1100"/>
<!-- terminals -->
<path class="ys" stroke="#1d1a18" d="M118,325 L110,318 M118,325 L128,315 M660,260 L652,268 M660,260 L668,253 M178,640 L168,642 M178,640 L180,658 M697,597 L687,597 M697,597 L698,612 M462,1025 L452,1022 M462,1025 L464,1038 M1243,1005 L1237,1012 M1243,1005 L1253,1000 M1312,930 L1312,942 M1312,930 L1326,928 M792,1105 L783,1112 M792,1105 L800,1112 M1445,355 L1440,342 M1445,355 L1452,358"/>
<path class="ys" stroke="#e5202e" d="M1175,90 L1168,82 M1175,90 L1186,86 M190,270 L182,265 M190,270 L200,265 M475,180 L466,176 M475,180 L484,170 M675,520 L665,515 M675,520 L680,530 M905,575 L896,584 M905,575 L914,584 M1368,555 L1360,562 M1368,555 L1377,562 M1440,260 L1432,264 M1440,260 L1452,268 M1440,260 L1438,250 M245,955 L240,948 M245,955 L247,968 M325,985 L321,975 M325,985 L340,980 M665,1115 L655,1110 M665,1115 L666,1125 M812,1125 L804,1118 M812,1125 L822,1118 M812,1125 L813,1135 M1168,1080 L1158,1085 M1168,1080 L1178,1085 M1170,890 L1165,882 M1170,890 L1172,905 M935,815 L925,812 M935,815 L935,826"/>
<path class="ys" stroke="#2b5da8" d="M238,235 L230,230 M238,235 L246,228 M540,135 L532,130 M540,135 L548,130 M435,490 L426,498 M435,490 L444,498 M612,508 L604,514 M612,508 L622,514 M868,560 L860,550 M868,560 L878,552 M1200,125 L1192,130 M1200,125 L1210,130 M1417,570 L1408,576 M1417,570 L1426,576 M362,960 L354,950 M362,960 L372,950 M645,1165 L640,1155 M645,1165 L655,1165 M902,935 L895,925 M902,935 L910,925 M1003,1100 L994,1106 M1003,1100 L1014,1106 M1385,990 L1375,985 M1385,990 L1395,985 M420,880 L418,870 M420,880 L432,870"/>
<path class="ys" stroke="#0fa56f" d="M505,430 L500,420 M505,430 L503,440 M1285,250 L1298,248 M1285,250 L1280,238 M1135,340 L1130,330 M1135,340 L1142,348 M1360,250 L1365,238 M1360,250 L1372,258 M1040,550 L1042,545 M1040,550 L1050,540 M655,748 L650,738 M655,748 L650,760 M820,795 L812,785 M820,795 L814,805 M485,1110 L476,1118 M485,1110 L494,1118 M353,1190 L345,1198 M353,1190 L362,1198 M1465,1100 L1452,1098 M1465,1100 L1468,1112 M1100,730 L1102,722 M1100,730 L1110,742 M1060,795 L1055,787 M1060,795 L1058,805"/>
<g fill="#0fa56f"><ellipse cx="105" cy="452" rx="8" ry="10"/><ellipse cx="640" cy="389" rx="8" ry="10"/><ellipse cx="1150" cy="337" rx="8" ry="10"/><ellipse cx="990" cy="387" rx="8" ry="10"/><ellipse cx="1455" cy="440" rx="8" ry="10"/><ellipse cx="1090" cy="727" rx="8" ry="10"/><ellipse cx="950" cy="714" rx="8" ry="10"/><ellipse cx="1395" cy="775" rx="8" ry="10"/><ellipse cx="1045" cy="806" rx="8" ry="10"/><ellipse cx="1175" cy="838" rx="8" ry="10"/><ellipse cx="635" cy="757" rx="8" ry="10"/><ellipse cx="463" cy="900" rx="8" ry="10"/><ellipse cx="1450" cy="903" rx="8" ry="10"/></g>
<g fill="#2b5da8"><ellipse cx="338" cy="389" rx="8" ry="10"/><ellipse cx="490" cy="318" rx="8" ry="10"/><ellipse cx="677" cy="393" rx="8" ry="10"/><ellipse cx="938" cy="402" rx="8" ry="10"/><ellipse cx="1118" cy="308" rx="8" ry="10"/><ellipse cx="1405" cy="452" rx="8" ry="10"/><ellipse cx="418" cy="885" rx="8" ry="10"/><ellipse cx="663" cy="860" rx="8" ry="10"/><ellipse cx="880" cy="840" rx="8" ry="10"/><ellipse cx="1090" cy="830" rx="8" ry="10"/><ellipse cx="1387" cy="883" rx="8" ry="10"/></g>
</g>

<!-- right labels -->
<g>
<text x="1094" y="151" textLength="127" lengthAdjust="spacingAndGlyphs">Vagus nerves</text>
<text x="1404" y="262" textLength="107" lengthAdjust="spacingAndGlyphs">Splanchnic</text><text x="1404" y="288" textLength="62" lengthAdjust="spacingAndGlyphs">nerves</text>
<text x="927" y="343" textLength="172" lengthAdjust="spacingAndGlyphs">Celiac or superior</text><text x="927" y="369" textLength="180" lengthAdjust="spacingAndGlyphs">mesenteric ganglia</text>
<text x="985" y="529" textLength="175" lengthAdjust="spacingAndGlyphs">Mesenteric nerves</text><text x="985" y="554" textLength="154" lengthAdjust="spacingAndGlyphs">following blood</text><text x="985" y="579" textLength="66" lengthAdjust="spacingAndGlyphs">vessels</text>
<text x="1007" y="761" textLength="98" lengthAdjust="spacingAndGlyphs">Mesentery</text>
<text x="578" y="901" textLength="62" lengthAdjust="spacingAndGlyphs">Serosa</text>
<text x="541" y="959" textLength="120" lengthAdjust="spacingAndGlyphs">Longitudinal</text><text x="593" y="984" textLength="69" lengthAdjust="spacingAndGlyphs">muscle</text>
<text x="563" y="1066" textLength="96" lengthAdjust="spacingAndGlyphs">Myenteric</text><text x="597" y="1091" textLength="62" lengthAdjust="spacingAndGlyphs">plexus</text>
<text x="569" y="1156" textLength="77" lengthAdjust="spacingAndGlyphs">Circular</text><text x="578" y="1182" textLength="69" lengthAdjust="spacingAndGlyphs">muscle</text>
<text x="562" y="1245" textLength="112" lengthAdjust="spacingAndGlyphs">Submucous</text><text x="612" y="1271" textLength="62" lengthAdjust="spacingAndGlyphs">plexus</text>
<text x="586" y="1309" textLength="105" lengthAdjust="spacingAndGlyphs">Muscularis</text><text x="604" y="1335" textLength="87" lengthAdjust="spacingAndGlyphs">mucosae</text>
<text x="662" y="1388" textLength="76" lengthAdjust="spacingAndGlyphs">Mucosa</text>
</g>
<path class="L" d="M1228,143 L1265,143 M1395,248 L1355,238 M1115,358 L1165,343 M1060,579 L1100,579 L1190,553 M1100,579 L1228,593 M1115,754 L1155,754 M650,894 L675,894 M667,951 L690,951 M670,1059 L708,1059 M653,1150 L727,1150 M680,1238 L705,1238 L745,1229 M705,1238 L755,1255 M705,1238 L757,1280 M696,1302 L758,1302 M747,1381 L782,1381"/>

<!-- signature -->
<text transform="translate(735,783) rotate(-38)" style="font-family:'Liberation Serif',serif;font-style:italic;font-size:34px;fill:#6f6f6f" textLength="100" lengthAdjust="spacingAndGlyphs">f. Netter</text>
<text transform="translate(803,745) rotate(-38)" style="font-family:'Liberation Serif',serif;font-style:italic;font-size:12px;fill:#6f6f6f">M.D.</text>
<text x="782" y="785" text-anchor="middle" style="font-size:9px;fill:#888">with</text>
<text x="782" y="802" text-anchor="middle" style="font-family:'Liberation Serif',serif;font-weight:bold;font-size:13px;fill:#666">J. Perkins</text>
<text x="782" y="812" text-anchor="middle" style="font-family:'Liberation Serif',serif;font-weight:bold;font-size:7px;fill:#777">MS, MFA</text>

<!-- photo -->
<g clip-path="url(#ph)">
<rect x="46" y="997" width="498" height="339" filter="url(#photo)"/>
<g transform="translate(41,995) scale(.33,.2275)">
<g fill="#0c0302" opacity=".9" filter="url(#blurP)">
<ellipse cx="230" cy="90" rx="240" ry="90"/><ellipse cx="1350" cy="130" rx="200" ry="120"/><ellipse cx="1150" cy="760" rx="180" ry="80"/><ellipse cx="1470" cy="720" rx="70" ry="120"/><ellipse cx="1230" cy="430" rx="140" ry="50"/><ellipse cx="800" cy="690" rx="120" ry="60"/><ellipse cx="300" cy="680" rx="130" ry="60"/><ellipse cx="600" cy="60" rx="100" ry="50"/><ellipse cx="1000" cy="100" rx="110" ry="70"/><ellipse cx="80" cy="800" rx="80" ry="110"/><ellipse cx="1400" cy="1000" rx="110" ry="80"/>
</g>
<ellipse cx="640" cy="400" rx="300" ry="170" fill="#b8601c" opacity=".3" filter="url(#blurP)"/>
<path d="M700,1040 L790,1000 L830,1090 L720,1150 Z M690,950 L800,780 L840,900 L760,1050 Z" fill="#c9601e" opacity=".6" filter="url(#rough)"/>
<g fill="#100403" stroke="#a8401a" stroke-width="6" filter="url(#blur2)">
<ellipse cx="150" cy="1300" rx="132" ry="145"/><ellipse cx="410" cy="1265" rx="102" ry="170"/><ellipse cx="590" cy="1355" rx="72" ry="125"/><ellipse cx="830" cy="1345" rx="78" ry="125"/><ellipse cx="1015" cy="1220" rx="88" ry="145"/><ellipse cx="1240" cy="1240" rx="122" ry="185"/>
</g>
<path d="M20,1200 C60,1130 200,1110 270,1170 M320,1170 C350,1090 470,1060 510,1130 M540,1290 C570,1200 650,1170 680,1220 M960,1120 C1000,1050 1090,1070 1110,1150 M1130,1140 C1180,1040 1300,1060 1350,1150" fill="none" stroke="#e07a22" stroke-width="9" filter="url(#blur2)"/>
<ellipse cx="850" cy="1030" rx="32" ry="85" fill="#0d0302"/>
<g filter="url(#mott)">
<path d="M370,400 L640,330 L640,520 L440,570 Z M650,440 L830,310 L880,450 L850,570 L650,520 Z" fill="#e8c860"/>
<g fill="none" stroke-linejoin="round">
<path d="M200,490 L300,470 M380,450 L500,400 L620,330 L730,230 L830,250 L900,330 L1000,360 L1250,340 L1490,350" stroke="#f0c860" stroke-width="14"/>
<path d="M830,470 L950,600 L1050,620 L1300,540" stroke="#f0d880" stroke-width="11"/>
<path d="M430,390 L560,400 L470,550 M720,430 L830,350 L830,480" stroke="#c0ecd8" stroke-width="14"/>
<path d="M100,1030 L240,950 L400,1000 L600,1080" stroke="#e8d060" stroke-width="12"/>
</g>
</g>
</g>
</g>

<!-- caption -->
<text x="46" y="1360" textLength="481" lengthAdjust="spacingAndGlyphs">Postganglionic sympathetic NA nerve fibers in the</text>
<text x="46" y="1385" textLength="484" lengthAdjust="spacingAndGlyphs">myenteric plexus of the jejunum. GA fluorescence</text>
<text x="46" y="1411" textLength="516" lengthAdjust="spacingAndGlyphs">histochemistry counterstained with ethidium bromide</text>
<text x="46" y="1436" textLength="358" lengthAdjust="spacingAndGlyphs">to reveal the architecture of this area.</text>
</svg>
</body></html>
